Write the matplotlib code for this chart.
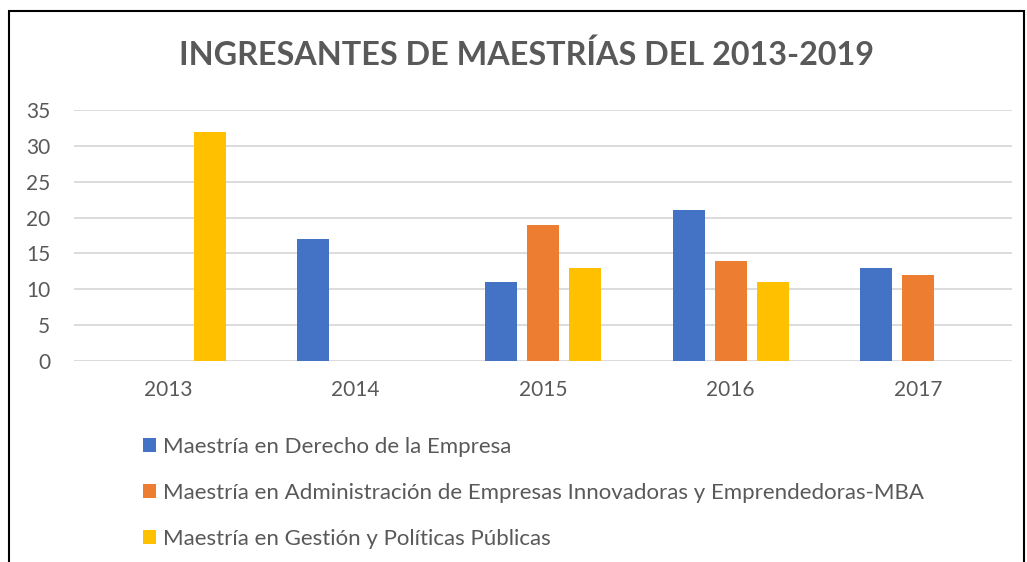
import matplotlib
matplotlib.use("Agg")
import matplotlib.pyplot as plt
import numpy as np
from matplotlib.patches import Rectangle

plt.rcParams['font.family'] = ['Lato', 'DejaVu Sans']

years = ['2013', '2014', '2015', '2016', '2017']
series_names = [
    'Maestría en Derecho de la Empresa',
    'Maestría en Administración de Empresas Innovadoras y Emprendedoras-MBA',
    'Maestría en Gestión y Políticas Públicas',
]
derecho = [0, 17, 11, 21, 13]
administracion = [0, 0, 19, 14, 12]
gestion = [32, 0, 13, 11, 0]
colors = ['#4472C4', '#ED7D31', '#FFC000']

fig = plt.figure(figsize=(10.27, 5.62), dpi=100)
ax = fig.add_axes([74 / 1027, 1 - 361 / 562, 938 / 1027, 251 / 562])

x = np.arange(len(years))
width = 0.171
offset = 0.224
for i, (vals, c) in enumerate(zip([derecho, administracion, gestion], colors)):
    ax.bar(x + (i - 1) * offset, vals, width, color=c, label=series_names[i], zorder=3)

ax.set_xlim(-0.5, len(years) - 0.5)
ax.set_ylim(0, 35)
ax.set_yticks(range(0, 36, 5))
ax.set_xticks(x)
ax.set_xticklabels(years)
ax.grid(axis='y', color='#D9D9D9', linewidth=1.3, zorder=0)
for s in ax.spines.values():
    s.set_visible(False)
ax.tick_params(length=0, labelsize=15, labelcolor='#595959')
ax.tick_params(axis='y', pad=17)
ax.tick_params(axis='x', pad=14)

fig.text(0.5125, 1 - 55 / 562, 'INGRESANTES DE MAESTRÍAS DEL 2013-2019',
         ha='center', va='center', fontsize=23.3, fontweight='bold', color='#595959')

handles, labels = ax.get_legend_handles_labels()
fig.legend(handles, labels, loc='upper left', bbox_to_anchor=(123 / 1027, 1 - 417 / 562),
           frameon=False, fontsize=16, labelcolor='#595959', handlelength=0.58,
           handleheight=0.58, handletextpad=0.3, labelspacing=1.17)

fig.patches.append(Rectangle((9 / 1027, -0.05), 1015 / 1027, 1.05 - 11 / 562,
                             transform=fig.transFigure, fill=False,
                             edgecolor='black', linewidth=1.5))

fig.savefig('out.png', dpi=100)
